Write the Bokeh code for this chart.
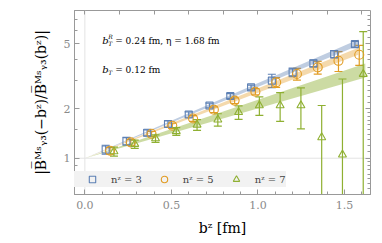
from bokeh.plotting import figure
from bokeh.models import (ColumnDataSource, Whisker, TeeHead, LogAxis, LinearAxis,
                          FixedTicker, Span, Label, Legend, LegendItem, Range1d,
                          BasicTickFormatter, NumeralTickFormatter)
from bokeh.transform import dodge
from bokeh.embed import file_html
from bokeh.resources import INLINE

# ---------------- data ----------------
b_fm = [0.12, 0.24, 0.36, 0.48, 0.60, 0.72, 0.84, 0.96, 1.08, 1.20, 1.32, 1.44, 1.56]

ratio_n3 = [1.13, 1.27, 1.43, 1.62, 1.85, 2.10, 2.40, 2.71, 2.98, 3.35, 3.80, 4.33, 4.98]
err_n3 = [0.07, 0.07, 0.06, 0.07, 0.07, 0.07, 0.08, 0.09, 0.28, 0.20, 0.18, 0.22, 0.20]

ratio_n5 = [1.11, 1.25, 1.41, 1.58, 1.75, 1.98, 2.25, 2.55, 2.91, 3.27, 3.59, 3.94, 4.29]
err_n5 = [0.05, 0.05, 0.05, 0.06, 0.07, 0.08, 0.09, 0.11, 0.20, 0.27, 0.32, 0.55, 0.60]

ratio_n7 = [1.10, 1.22, 1.32, 1.46, 1.60, 1.72, 1.91, 2.10, 2.10, 2.10, 1.34, 1.05, 3.27]
err_n7 = [0.07, 0.07, 0.07, 0.08, 0.12, 0.15, 0.18, 0.27, 0.42, 0.59, 0.76, 2.00, 2.68]

# fit bands (b, lower, upper)
band_b_n3 = [0.0, 1.58]
band_lo_n3 = [1.0, 4.88]
band_hi_n3 = [1.0, 5.31]
band_b_n5 = [0.0, 1.58]
band_lo_n5 = [1.0, 4.29]
band_hi_n5 = [1.0, 4.73]
band_b_n7 = [0.0, 1.62]
band_lo_n7 = [1.0, 3.12]
band_hi_n7 = [1.0, 3.80]

legend_labels = ["nᶻ = 3", "nᶻ = 5", "nᶻ = 7"]
x_ticks = [0.0, 0.5, 1.0, 1.5]
x_minor = [round(0.1 * i, 1) for i in range(-1, 17)]
x_top_ticks = [round(0.2 * i, 1) for i in range(0, 9)]
y_ticks = [1, 2, 5]
y_minor = [0.6, 0.7, 0.8, 0.9, 1.5, 3, 4, 6, 7, 8]
y_right_minor = [0.6, 0.65, 0.7, 0.75, 0.8, 0.85, 0.9, 0.95, 1.1, 1.2, 1.3, 1.4, 1.5, 1.6,
                 1.7, 1.8, 1.9, 2.2, 2.4, 2.6, 2.8, 3.0, 3.3, 3.6, 4.0, 4.3, 4.6, 5.5, 6.0,
                 6.5, 7.0, 7.5]

C3, C5, C7 = "#5E81B5", "#E19C24", "#8FB032"
FONT = "DejaVu Serif"

# ---------------- figure ----------------
p = figure(width=374, height=240, output_backend="svg", toolbar_location=None,
           y_axis_type="log", x_range=Range1d(-0.06, 1.65), y_range=Range1d(0.6, 8.0),
           min_border_left=74, min_border_right=4, min_border_top=10, min_border_bottom=46)
p.grid.visible = False
p.outline_line_color = "#999999"
p.background_fill_color = "white"
p.border_fill_color = "white"

p.add_layout(Span(location=0, dimension="height", line_color="#e3e3e3",
                  line_width=1, level="underlay"))
p.add_layout(Span(location=1, dimension="width", line_color="#e3e3e3",
                  line_width=1, level="underlay"))

# bands
for bb, lo, hi, col, al in [(band_b_n3, band_lo_n3, band_hi_n3, C3, 0.4),
                            (band_b_n5, band_lo_n5, band_hi_n5, C5, 0.38),
                            (band_b_n7, band_lo_n7, band_hi_n7, C7, 0.45)]:
    p.varea(x=bb, y1=lo, y2=hi, fill_color=col, fill_alpha=al)

renderers = []
for vals, errs, col, mk, size, off in [(ratio_n3, err_n3, C3, "square", 7, 0.0),
                                       (ratio_n5, err_n5, C5, "circle", 9, 0.025),
                                       (ratio_n7, err_n7, C7, "triangle", 8, 0.048)]:
    src = ColumnDataSource(dict(b=b_fm, v=vals,
                                up=[v + e for v, e in zip(vals, errs)],
                                lo=[max(v - e, 0.01) for v, e in zip(vals, errs)]))
    w = Whisker(source=src, base=dodge("b", off), upper="up", lower="lo",
                line_color=col, line_width=1.2,
                upper_head=TeeHead(size=8, line_color=col, line_width=1.2),
                lower_head=TeeHead(size=8, line_color=col, line_width=1.2))
    p.add_layout(w)
    r = p.scatter(x=dodge("b", off), y="v", source=src, marker=mk, size=size,
                  line_color=col, fill_color=None, line_width=1.1)
    renderers.append(r)

# axes
xa = p.xaxis[0]
xa.ticker = FixedTicker(ticks=x_ticks, minor_ticks=x_minor)
xa.formatter = NumeralTickFormatter(format="0.0")
ya = p.yaxis[0]
ya.ticker = FixedTicker(ticks=y_ticks, minor_ticks=y_minor)
ya.formatter = BasicTickFormatter()
for ax in (xa, ya):
    ax.axis_line_color = "#999999"
    ax.major_tick_line_color = "#999999"
    ax.minor_tick_line_color = "#999999"
    ax.major_tick_in = 5
    ax.major_tick_out = 0
    ax.minor_tick_in = 3
    ax.minor_tick_out = 0
    ax.major_label_text_font = FONT
    ax.major_label_text_font_size = "11px"
    ax.major_label_text_color = "#8a8a8a"
    ax.axis_label_text_font = FONT
    ax.axis_label_text_font_style = "normal"
    ax.axis_label_text_color = "black"
xa.major_label_standoff = 6
xa.axis_label = "bᶻ [fm]"
xa.axis_label_text_font_size = "14px"
xa.axis_label_standoff = 8
ya.major_label_standoff = 4
ya.axis_label = "|B̅ᴹˢᵧ₃(−bᶻ)/B̅ᴹˢᵧ₃(bᶻ)|"
ya.axis_label_text_font_size = "14px"
ya.axis_label_standoff = 12

top = LinearAxis(ticker=FixedTicker(ticks=x_top_ticks), formatter=BasicTickFormatter(),
                 major_label_text_font_size="1px",
                 major_label_text_color=None, major_label_standoff=0, axis_line_color=None,
                 major_tick_line_color="#999999", major_tick_in=4, major_tick_out=0,
                 minor_tick_line_color=None)
p.add_layout(top, "above")
right = LogAxis(ticker=FixedTicker(ticks=y_ticks, minor_ticks=y_right_minor),
                formatter=BasicTickFormatter(),
                major_label_text_font_size="1px", major_label_text_color=None,
                major_label_standoff=0,
                axis_line_color=None, major_tick_line_color="#999999",
                major_tick_in=5, major_tick_out=0, minor_tick_line_color="#999999",
                minor_tick_in=3, minor_tick_out=0)
p.add_layout(right, "right")

# annotations
lab_kw = dict(text_font=FONT, text_color="black", text_baseline="middle")
p.add_layout(Label(x=0.10, y=5.22, text="b", text_font_size="10px",
                   text_font_style="italic", **lab_kw))
p.add_layout(Label(x=0.10, y=5.22, x_offset=6, y_offset=4, text="R",
                   text_font_size="6px", text_font_style="italic", **lab_kw))
p.add_layout(Label(x=0.10, y=5.22, x_offset=6, y_offset=-3, text="T",
                   text_font_size="6px", text_font_style="italic", **lab_kw))
p.add_layout(Label(x=0.10, y=5.22, x_offset=13, text="= 0.24 fm, η = 1.68 fm",
                   text_font_size="9px", **lab_kw))
p.add_layout(Label(x=0.10, y=3.47, text="b", text_font_size="10px",
                   text_font_style="italic", **lab_kw))
p.add_layout(Label(x=0.10, y=3.47, x_offset=6, y_offset=-3, text="T",
                   text_font_size="6px", text_font_style="italic", **lab_kw))
p.add_layout(Label(x=0.10, y=3.47, x_offset=13, text="= 0.12 fm",
                   text_font_size="9px", **lab_kw))

legend = Legend(items=[LegendItem(label=l, renderers=[r]) for l, r in zip(legend_labels, renderers)],
                orientation="horizontal", location=(0, 7),
                background_fill_color="#f2f2f2", background_fill_alpha=1.0,
                border_line_color=None, padding=4, margin=0,
                glyph_width=36, glyph_height=16, label_standoff=1, spacing=4,
                label_text_font=FONT, label_text_font_size="10px")
p.add_layout(legend, "center")

open("out.html", "w").write(file_html(p, INLINE))
